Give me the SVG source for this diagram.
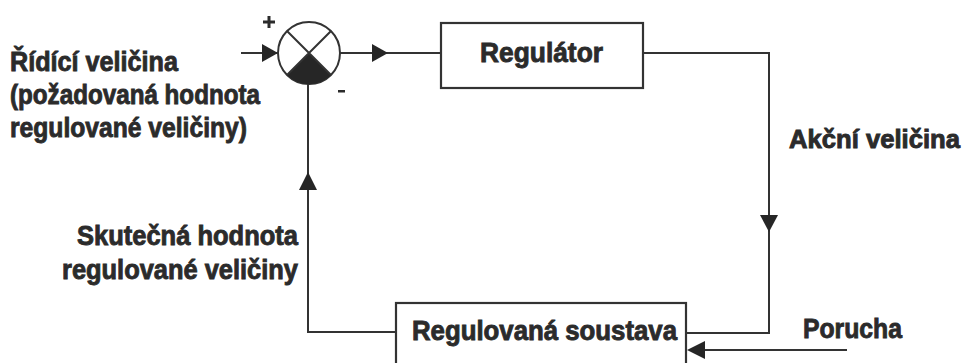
<svg xmlns="http://www.w3.org/2000/svg" width="968" height="363" viewBox="0 0 968 363">
<defs>
<style>
.t{font-family:"Liberation Sans",Arial,sans-serif;font-weight:bold;font-size:28px;fill:#2b2b2b;stroke:#2b2b2b;stroke-width:0.9}
.ln{fill:none;stroke:#333;stroke-width:2}
.box{fill:#fff;stroke:#333;stroke-width:2.2}
.ah{fill:#262626}
</style>
</defs>
<rect width="968" height="363" fill="#fff"/>
<g id="connectors">
<path class="ln" d="M241,53 H278"/>
<polygon class="ah" points="262,44 278,53 262,62"/>
<path class="ln" d="M340,53 H441"/>
<polygon class="ah" points="372,44 388,53 372,62"/>
<path class="ln" d="M643,53 H769 V333 H686"/>
<polygon class="ah" points="760,215 778,215 769,232"/>
<path class="ln" d="M396,332 H308 V84"/>
<polygon class="ah" points="299,190 317,190 308,172"/>
<path class="ln" d="M847,350 H690"/>
<polygon class="ah" points="705,341 705,359 687,350"/>
</g>
<g id="sum">
<circle cx="309" cy="53" r="31" fill="#fff" stroke="#333" stroke-width="2"/>
<path d="M309,53 L331,75 A31,31 0 0 1 287,75 Z" fill="#262626"/>
<path class="ln" d="M287,31 L331,75 M331,31 L287,75"/>
<path d="M269,16 V28 M263,22 H275" fill="none" stroke="#2b2b2b" stroke-width="3"/>
<rect x="338" y="90" width="7" height="2.5" fill="#2b2b2b"/>
</g>
<g id="regulator">
<rect class="box" x="441" y="23" width="202" height="65"/>
<text class="t" x="480" y="62" textLength="123" lengthAdjust="spacingAndGlyphs">Regulátor</text>
</g>
<g id="soustava">
<rect class="box" x="396" y="303" width="290" height="75"/>
<text class="t" x="412" y="340" textLength="265" lengthAdjust="spacingAndGlyphs">Regulovaná soustava</text>
</g>
<g id="label-ridici">
<text class="t" x="10" y="71" textLength="168" lengthAdjust="spacingAndGlyphs">Řídící veličina</text>
<text class="t" x="10" y="104" textLength="250" lengthAdjust="spacingAndGlyphs">(požadovaná hodnota</text>
<text class="t" x="10" y="137" textLength="237" lengthAdjust="spacingAndGlyphs">regulované veličiny)</text>
</g>
<g id="label-skutecna">
<text class="t" x="77" y="245" textLength="221" lengthAdjust="spacingAndGlyphs">Skutečná hodnota</text>
<text class="t" x="62" y="279" textLength="236" lengthAdjust="spacingAndGlyphs">regulované veličiny</text>
</g>
<g id="label-akcni">
<text class="t" x="789" y="148" style="font-size:25px" textLength="171" lengthAdjust="spacingAndGlyphs">Akční veličina</text>
</g>
<g id="label-porucha">
<text class="t" x="803" y="338" textLength="99" lengthAdjust="spacingAndGlyphs">Porucha</text>
</g>
</svg>
